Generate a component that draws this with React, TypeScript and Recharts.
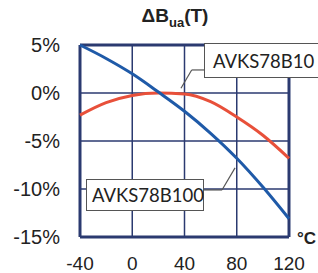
import { LineChart, Line, XAxis, YAxis, CartesianGrid, ReferenceLine } from 'recharts';

const temps = [-40, -20, 0, 20, 40, 60, 80, 100, 120];
const avks78b10 = [-2.3, -1.0, -0.25, 0, -0.1, -0.9, -2.5, -4.4, -6.8];
const avks78b100 = [5.0, 3.6, 2.0, 0.1, -1.9, -4.2, -6.8, -9.8, -13.1];
const xTicks = [-40, 0, 40, 80, 120];
const yTicks = [-15, -10, -5, 0, 5];

const data = temps.map((t, i) => ({ t, b10: avks78b10[i], b100: avks78b100[i] }));

const navy = '#2b3a70';
const font = 'Liberation Sans, Arial, sans-serif';

const boxStyle: React.CSSProperties = {
  position: 'absolute',
  background: '#fff',
  border: '1px solid #555',
  fontFamily: 'Lato, sans-serif',
  fontSize: 18.5,
  color: '#222',
  display: 'flex',
  alignItems: 'center',
  paddingLeft: 8,
  boxSizing: 'border-box',
};

export default function App() {
  return (
    <div style={{ position: 'absolute', left: 0, top: 0, width: 318, height: 273, background: '#fff', overflow: 'hidden' }}>
      <div style={{ position: 'absolute', left: 0, width: 350, top: 5, textAlign: 'center', fontFamily: font, fontWeight: 'bold', fontSize: 19, color: '#222' }}>
        ΔB<sub style={{ fontSize: 13 }}>ua</sub>(T)
      </div>
      <LineChart width={318} height={273} data={data} margin={{ top: 45, right: 29, left: 20, bottom: 6 }}>
        <CartesianGrid stroke={navy} strokeWidth={1.5} horizontalValues={yTicks} verticalValues={xTicks} />
        <XAxis
          type="number"
          dataKey="t"
          domain={[-40, 120]}
          ticks={xTicks}
          axisLine={false}
          tickLine={false}
          tick={{ fontSize: 19, fill: '#222', fontFamily: font, dy: 12 }}
          height={30}
        />
        <YAxis
          type="number"
          domain={[-15, 5]}
          ticks={yTicks}
          axisLine={false}
          tickLine={false}
          tickFormatter={(v: number) => `${v}%`}
          tick={{ fontSize: 20, fill: '#222', fontFamily: font, dx: -12 }}
          width={60}
        />
        <ReferenceLine x={-40} stroke={navy} strokeWidth={3} />
        <ReferenceLine x={120} stroke={navy} strokeWidth={3} />
        <ReferenceLine y={5} stroke={navy} strokeWidth={3} />
        <ReferenceLine y={-15} stroke={navy} strokeWidth={3} />
        <Line type="monotone" dataKey="b10" stroke="#e8503a" strokeWidth={3} dot={false} isAnimationActive={false} />
        <Line type="monotone" dataKey="b100" stroke="#1f5aa8" strokeWidth={3} dot={false} isAnimationActive={false} />
        <ReferenceLine segment={[{ x: 55.7, y: 2.4 }, { x: 45.5, y: 2.4 }]} stroke="#555" strokeWidth={1.2} ifOverflow="visible" />
        <ReferenceLine segment={[{ x: 45.5, y: 2.4 }, { x: 37.3, y: 0.5 }]} stroke="#555" strokeWidth={1.2} ifOverflow="visible" />
        <ReferenceLine segment={[{ x: 54.2, y: -10.1 }, { x: 68.7, y: -10.1 }]} stroke="#555" strokeWidth={1.2} ifOverflow="visible" />
        <ReferenceLine segment={[{ x: 68.7, y: -10.1 }, { x: 78.7, y: -7.8 }]} stroke="#555" strokeWidth={1.2} ifOverflow="visible" />
      </LineChart>
      <div style={{ ...boxStyle, left: 204, top: 43, width: 130, height: 35 }}>AVKS78B10</div>
      <div style={{ ...boxStyle, left: 86, top: 179, width: 118, height: 32, paddingLeft: 5 }}>AVKS78B100</div>
      <div style={{ position: 'absolute', left: 297, top: 229, fontFamily: font, fontWeight: 'bold', fontSize: 17, color: '#222' }}>°C</div>
    </div>
  );
}
